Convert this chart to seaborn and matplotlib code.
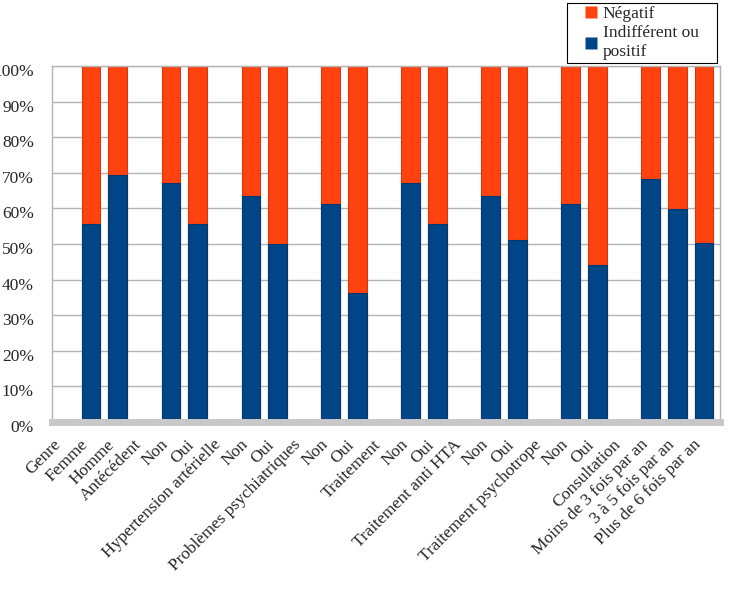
import numpy as np
import pandas as pd
import matplotlib
matplotlib.use("Agg")
import matplotlib.pyplot as plt
from matplotlib.lines import Line2D
from matplotlib.transforms import ScaledTranslation
import seaborn as sns

categories = ["Genre", "Femme", "Homme", "Antécédent", "Non", "Oui",
              "Hypertension artérielle", "Non", "Oui", "Problèmes psychiatriques",
              "Non", "Oui", "Traitement", "Non", "Oui", "Traitement anti HTA",
              "Non", "Oui", "Traitement psychotrope", "Non", "Oui", "Consultation",
              "Moins de 3 fois par an", "3 à 5 fois par an", "Plus de 6 fois par an"]
nan = np.nan
positif = [nan, 55.5, 69.5, nan, 67, 55.5, nan, 63.5, 50, nan, 61.3, 36.3,
           nan, 67, 55.5, nan, 63.4, 51, nan, 61.1, 44, nan, 68.2, 59.7, 50.3]
negatif = [nan if np.isnan(v) else 100 - v for v in positif]

BLUE = "#004586"
ORANGE = "#ff420e"

sns.set_theme(style="white")
plt.rcParams['font.family'] = ['Liberation Serif', 'DejaVu Serif']

keys = [str(i) for i in range(len(categories))]
df = pd.DataFrame({"key": keys, "positif": positif, "negatif": negatif})
df["total"] = df["positif"] + df["negatif"]

W, H = 731, 607
fig = plt.figure(figsize=(W / 100, H / 100), dpi=100)
ax = fig.add_axes([52 / W, 1 - 422 / H, (720 - 52) / W, (422 - 66) / H])

sns.barplot(data=df, x="key", y="total", order=keys, color=ORANGE, width=0.7,
            errorbar=None, saturation=1, ax=ax, edgecolor="#d8380b", linewidth=0.8)
sns.barplot(data=df, x="key", y="positif", order=keys, color=BLUE, width=0.7,
            errorbar=None, saturation=1, ax=ax, edgecolor="#00396e", linewidth=0.8)

ax.set_xlim(-0.46, 24.6)
ax.set_ylim(0, 100)
ax.set_yticks(range(0, 101, 10))
ax.set_yticklabels([f"{v}%" for v in range(0, 101, 10)], fontsize=12.5)
ax.tick_params(axis="y", length=0, pad=13)
off = ScaledTranslation(0, -4 / 100, fig.dpi_scale_trans)
for t in ax.get_yticklabels():
    t.set_transform(t.get_transform() + off)

ax.set_xticks(range(len(categories)))
ax.set_xticklabels(categories, rotation=45, ha="right", rotation_mode="anchor", fontsize=12.5)
ax.tick_params(axis="x", length=0, pad=2)
xoff = ScaledTranslation(-11 / 100, -12 / 100, fig.dpi_scale_trans)
for t in ax.get_xticklabels():
    t.set_transform(t.get_transform() + xoff)
ax.set_xlabel("")
ax.set_ylabel("")
ax.yaxis.grid(True, color="#b3b3b3", linewidth=1)
ax.set_axisbelow(True)
for s in ["left", "right", "top"]:
    ax.spines[s].set_color("#b3b3b3")
    ax.spines[s].set_linewidth(1)
ax.spines["bottom"].set_color("#c8c8c8")
ax.spines["bottom"].set_linewidth(5)

handles = [Line2D([], [], marker="s", linestyle="none", markersize=8, markerfacecolor=ORANGE, markeredgecolor="none"),
           Line2D([], [], marker="s", linestyle="none", markersize=8, markerfacecolor=BLUE, markeredgecolor="none")]
leg = fig.legend(handles, ["Négatif", "Indifférent ou\npositif"], loc="upper left",
                 bbox_to_anchor=(567 / W, 1 - 60 / H, 150 / W, 57 / H), mode="expand",
                 fontsize=12.5, frameon=True, fancybox=False, edgecolor="black", framealpha=1,
                 borderpad=0.15, labelspacing=0.2, handlelength=2.5, handletextpad=-0.6,
                 borderaxespad=0)
leg.get_frame().set_linewidth(0.8)
for t in leg.get_texts():
    t.set_linespacing(1.25)

fig.savefig("out.png", dpi=100)
